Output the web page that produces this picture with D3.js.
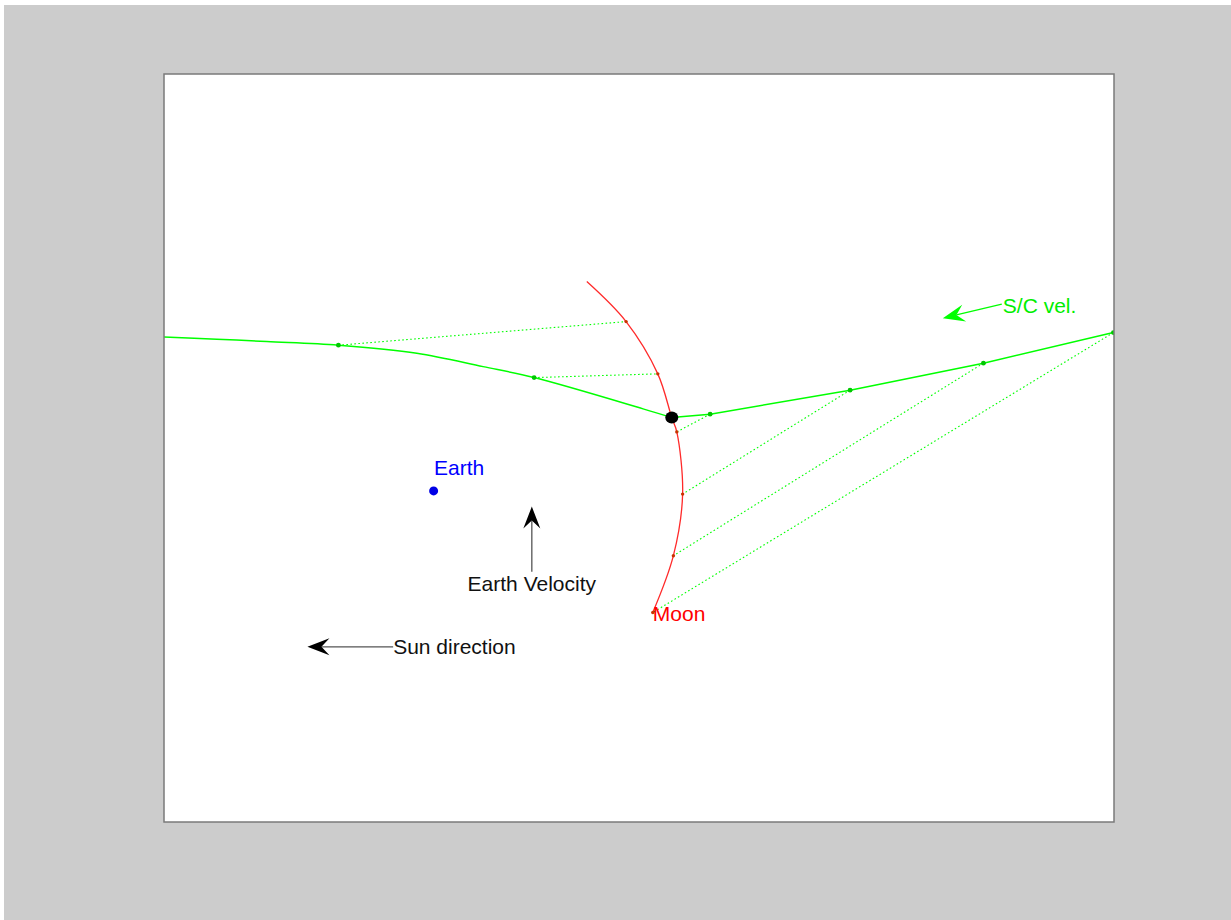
<!DOCTYPE html>
<html lang="en">
  <head>
    <meta charset="utf-8">
    <title>Lunar flyby geometry</title>
    <script src="https://cdn.jsdelivr.net/npm/d3@7"></script>
    <style>
      body { margin: 0; background: #fff; }
      text { font-family: "Liberation Sans", Arial, Helvetica, sans-serif; }
    </style>
  </head>
  <body>
    <script type="text/javascript">
      "use strict";

      // positions in 10^3 km, Earth at origin
      // spacecraft path, incoming leg (left) up to lunar encounter
      var scInX = [-406, -324.1, -249.3, -142.3, -25.1, 74.0, 150.2, 313.1, 356.0];
      var scInY = [231.6, 228.2, 224.5, 219.1, 207.1, 186.9, 170.4, 123.3, 110.2];
      // outgoing leg (right), from encounter
      var scOutX = [356.0, 413.3, 622.5, 821.8, 1016.1];
      var scOutY = [110.2, 115.4, 151.5, 192.1, 238.1];

      // spacecraft positions at the sample times (small markers)
      var scTickX = [-142.3, 150.2, 413.3, 622.5, 821.8, 1016.1];
      var scTickY = [219.1, 170.4, 115.4, 151.5, 192.1, 238.1];
      // Moon positions at the same sample times
      var moonTickX = [287.7, 335.1, 363.5, 372.2, 358.4, 327.6];
      var moonTickY = [254.6, 176.0, 88.7, -4.8, -97.5, -183.0];

      // Moon track
      var moonX = [229.0, 287.7, 335.1, 356.0, 363.5, 372.2, 358.4, 327.6];
      var moonY = [314.8, 254.6, 176.0, 110.2, 88.7, -4.8, -97.5, -183.0];

      // encounter point and Earth
      var encounter = [356.0, 110.2];
      var earth = [0, 0];

      // arrows: [tailX, tailY, tipX, tipY]
      var sunArrow = [-60.5, -234.6, -188.6, -234.6];
      var earthVelArrow = [146.8, -121.8, 146.8, -23.6];
      var scVelArrow = [849.3, 280.8, 761.1, 259.7];

      var labels = ["Earth", "Moon", "Earth Velocity", "Sun direction", "S/C vel."];

      /*
        setup
        */
      var W = 1231, H = 920;
      var box = { left: 164, top: 74, right: 1114, bottom: 822 };

      var svg = d3.select("body")
        .append("svg")
          .attr("width", W)
          .attr("height", H);

      // figure background
      svg.append("rect")
        .attr("x", 4).attr("y", 5)
        .attr("width", W - 4).attr("height", H - 5)
        .attr("fill", "#cccccc");

      svg.append("rect")
        .attr("x", box.left).attr("y", box.top)
        .attr("width", box.right - box.left)
        .attr("height", box.bottom - box.top)
        .attr("fill", "#ffffff");

      svg.append("clipPath").attr("id", "plotclip")
        .append("rect")
          .attr("x", box.left).attr("y", box.top)
          .attr("width", box.right - box.left)
          .attr("height", box.bottom - box.top);

      var x = d3.scaleLinear().domain([-403, 1017]).range([box.left, box.right]);
      var y = d3.scaleLinear().domain([-498, 627]).range([box.bottom, box.top]);

      var g = svg.append("g").attr("clip-path", "url(#plotclip)");

      var smooth = d3.line()
        .x(function (d) { return x(d[0]); })
        .y(function (d) { return y(d[1]); })
        .curve(d3.curveCatmullRom.alpha(0.5));

      var straight = d3.line()
        .x(function (d) { return x(d[0]); })
        .y(function (d) { return y(d[1]); });

      var zip = function (a, b) { return a.map(function (v, i) { return [v, b[i]]; }); };

      var green = "#00ff00";
      var red = "#ff2a2a";

      // dotted lines joining spacecraft and Moon at same time
      g.selectAll("line.link")
        .data(d3.range(scTickX.length))
        .enter()
        .append("line")
          .attr("class", "link")
          .attr("x1", function (i) { return x(scTickX[i]); })
          .attr("y1", function (i) { return y(scTickY[i]); })
          .attr("x2", function (i) { return x(moonTickX[i]); })
          .attr("y2", function (i) { return y(moonTickY[i]); })
          .attr("stroke", green)
          .attr("stroke-width", 1.1)
          .attr("stroke-dasharray", "1.6,2.4");

      // Moon track
      g.append("path")
        .attr("d", smooth(zip(moonX, moonY)))
        .attr("fill", "none")
        .attr("stroke", red)
        .attr("stroke-width", 1.3);

      // spacecraft trajectory
      g.append("path")
        .attr("d", smooth(zip(scInX, scInY)))
        .attr("fill", "none")
        .attr("stroke", green)
        .attr("stroke-width", 1.5);
      g.append("path")
        .attr("d", straight(zip(scOutX, scOutY)))
        .attr("fill", "none")
        .attr("stroke", green)
        .attr("stroke-width", 1.5);

      // markers
      g.selectAll("circle.sc")
        .data(zip(scTickX, scTickY))
        .enter()
        .append("circle")
          .attr("cx", function (d) { return x(d[0]); })
          .attr("cy", function (d) { return y(d[1]); })
          .attr("r", 2.4)
          .attr("fill", "#00c800");

      g.selectAll("circle.moon")
        .data(zip(moonTickX, moonTickY))
        .enter()
        .append("circle")
          .attr("cx", function (d) { return x(d[0]); })
          .attr("cy", function (d) { return y(d[1]); })
          .attr("r", 1.7)
          .attr("fill", "#c83200");

      g.append("ellipse")
        .attr("cx", x(encounter[0]))
        .attr("cy", y(encounter[1]))
        .attr("rx", 6.5).attr("ry", 6)
        .attr("fill", "#000");

      g.append("circle")
        .attr("cx", x(earth[0]))
        .attr("cy", y(earth[1]))
        .attr("r", 4.5)
        .attr("fill", "#0000e6");

      // arrows (head size in pixels)
      function arrow(a, shaftColor, headColor) {
        var x0 = x(a[0]), y0 = y(a[1]), x1 = x(a[2]), y1 = y(a[3]);
        var len = Math.hypot(x0 - x1, y0 - y1);
        var ux = (x0 - x1) / len, uy = (y0 - y1) / len;   // tip -> tail
        var px = -uy, py = ux;
        var L = 22, hw = 8.5, notch = 14;
        g.append("line")
          .attr("x1", x0).attr("y1", y0)
          .attr("x2", x1 + ux * notch).attr("y2", y1 + uy * notch)
          .attr("stroke", shaftColor)
          .attr("stroke-width", 1.3);
        var p = d3.path();
        p.moveTo(x1, y1);
        p.lineTo(x1 + ux * L + px * hw, y1 + uy * L + py * hw);
        p.lineTo(x1 + ux * notch, y1 + uy * notch);
        p.lineTo(x1 + ux * L - px * hw, y1 + uy * L - py * hw);
        p.closePath();
        g.append("path").attr("d", p.toString()).attr("fill", headColor);
      }
      arrow(sunArrow, "#555555", "#000000");
      arrow(earthVelArrow, "#555555", "#000000");
      arrow(scVelArrow, green, green);

      // text labels
      var fs = 21;
      function label(txt, px, py, anchor, color) {
        svg.append("text")
          .attr("x", px).attr("y", py)
          .attr("text-anchor", anchor)
          .attr("dominant-baseline", "central")
          .attr("font-size", fs + "px")
          .attr("fill", color)
          .text(txt);
      }
      label(labels[0], x(earth[0]) + 0.5, y(earth[1]) - 23, "start", "#0000ff");
      label(labels[1], x(moonX[moonX.length - 1]), y(moonY[moonY.length - 1]) + 1, "start", "#ff0000");
      label(labels[2], x(earthVelArrow[0]), y(earthVelArrow[1]) + 12, "middle", "#111111");
      label(labels[3], x(sunArrow[0]), y(sunArrow[1]), "start", "#111111");
      label(labels[4], x(scVelArrow[0]) + 1, y(scVelArrow[1]) + 1, "start", "#00ee00");

      // axes box
      svg.append("rect")
        .attr("x", box.left).attr("y", box.top)
        .attr("width", box.right - box.left)
        .attr("height", box.bottom - box.top)
        .attr("fill", "none")
        .attr("stroke", "#7a7a7a")
        .attr("stroke-width", 1.5);
    </script>
  </body>
</html>
